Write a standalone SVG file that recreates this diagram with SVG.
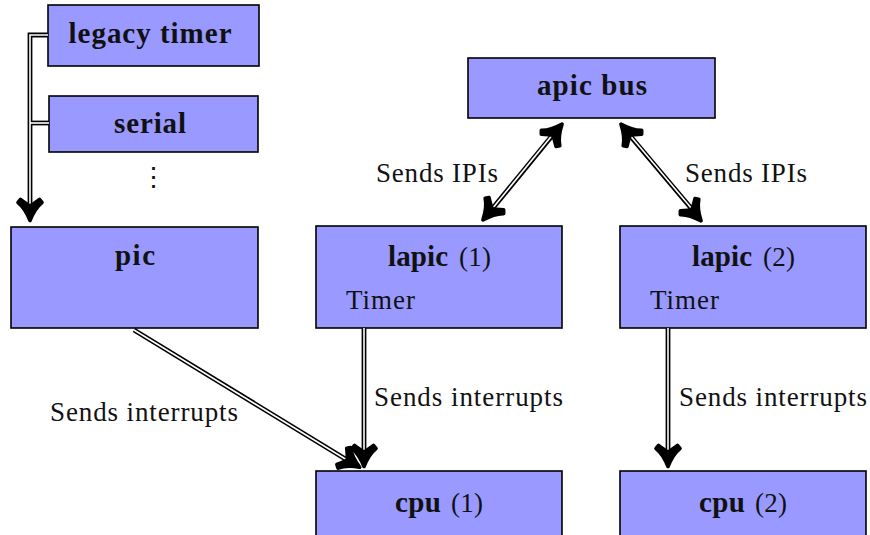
<svg xmlns="http://www.w3.org/2000/svg" xmlns:xlink="http://www.w3.org/1999/xlink" width="870" height="535" viewBox="0 0 870 535">
  <style>
    .box { fill: #9999ff; stroke: #000; stroke-width: 1.6; }
    .t { font-family: "Liberation Serif", "DejaVu Serif", serif; font-size: 27px; fill: #111; }
    .b { font-weight: bold; font-size: 29px; }
    .outer { fill: none; stroke: #000; stroke-width: 4.8; stroke-linejoin: miter; }
    .inner { fill: none; stroke: #fff; stroke-width: 1.6; stroke-linejoin: miter; }
  </style>
  <defs>
    <!-- arrow head pointing along +y, tip at origin -->
    <path id="head" d="M0,-1.5 C-3,-9 -7.5,-16 -12,-19.5 L-9.5,-22.5 C-5.5,-19.5 -2.8,-17.5 0,-16 C2.8,-17.5 5.5,-19.5 9.5,-22.5 L12,-19.5 C7.5,-16 3,-9 0,-1.5 Z" fill="#000" stroke="#000" stroke-width="3.6" stroke-linejoin="round"/>
  </defs>

  <g id="legacy-timer">
    <rect class="box" x="48" y="5" width="211" height="61"/>
    <text class="t b" x="150" y="43" text-anchor="middle" textLength="163">legacy timer</text>
  </g>
  <g id="serial">
    <rect class="box" x="49" y="96" width="209" height="56"/>
    <text class="t b" x="150" y="133" text-anchor="middle" textLength="72">serial</text>
  </g>
  <g id="more">
    <text class="t" x="153" y="186" text-anchor="middle" font-size="20">⋮</text>
  </g>
  <g id="pic">
    <rect class="box" x="11" y="227" width="247" height="101"/>
    <text class="t b" x="135" y="265" text-anchor="middle" textLength="40">pic</text>
  </g>
  <g id="apic-bus">
    <rect class="box" x="468" y="58" width="247" height="60"/>
    <text class="t b" x="592" y="95" text-anchor="middle" textLength="110">apic bus</text>
  </g>
  <g id="lapic-1">
    <rect class="box" x="316" y="226" width="246" height="102"/>
    <text class="t b" x="388" y="266" textLength="60">lapic</text>
    <text class="t" x="459" y="266" textLength="32">(1)</text>
    <text class="t" x="346" y="309" textLength="69">Timer</text>
  </g>
  <g id="lapic-2">
    <rect class="box" x="620" y="226" width="246" height="102"/>
    <text class="t b" x="692" y="266" textLength="60">lapic</text>
    <text class="t" x="763" y="266" textLength="32">(2)</text>
    <text class="t" x="650" y="309" textLength="69">Timer</text>
  </g>
  <g id="cpu-1">
    <rect class="box" x="316" y="471" width="246" height="80"/>
    <text class="t b" x="395" y="512" textLength="46">cpu</text>
    <text class="t" x="451" y="512" textLength="32">(1)</text>
  </g>
  <g id="cpu-2">
    <rect class="box" x="620" y="471" width="246" height="80"/>
    <text class="t b" x="699" y="512" textLength="46">cpu</text>
    <text class="t" x="755" y="512" textLength="32">(2)</text>
  </g>

  <g id="connectors">
    <!-- double-stroked lines: black casing, white core -->
    <path class="outer" d="M48,35 H30 V212"/>
    <path class="outer" d="M49,123 H30"/>
    <path class="outer" d="M556,131 L488,214"/>
    <path class="outer" d="M626,131 L696,214"/>
    <path class="outer" d="M134,330 L352,463"/>
    <path class="outer" d="M364,328 V458"/>
    <path class="outer" d="M668,328 V458"/>

    <path class="inner" d="M48,35 H30 V206"/>
    <path class="inner" d="M49,123 H30"/>
    <path class="inner" d="M554,133 L492,209"/>
    <path class="inner" d="M628,133 L692,209"/>
    <path class="inner" d="M134,330 L347,460"/>
    <path class="inner" d="M364,328 V452"/>
    <path class="inner" d="M668,328 V452"/>

    <use xlink:href="#head" transform="translate(30,222)"/>
    <use xlink:href="#head" transform="translate(563,123) rotate(-140.4)"/>
    <use xlink:href="#head" transform="translate(482,221) rotate(39.6)"/>
    <use xlink:href="#head" transform="translate(620,123) rotate(140.4)"/>
    <use xlink:href="#head" transform="translate(702,222) rotate(-39.6)"/>
    <use xlink:href="#head" transform="translate(361,468) rotate(-58.7)"/>
    <use xlink:href="#head" transform="translate(364,468)"/>
    <use xlink:href="#head" transform="translate(668,468)"/>

    <text class="t" x="498" y="182" text-anchor="end" textLength="122">Sends IPIs</text>
    <text class="t" x="685" y="182" textLength="122">Sends IPIs</text>
    <text class="t" x="50" y="421" textLength="188">Sends interrupts</text>
    <text class="t" x="374" y="406" textLength="189">Sends interrupts</text>
    <text class="t" x="679" y="406" textLength="188">Sends interrupts</text>
  </g>
</svg>
